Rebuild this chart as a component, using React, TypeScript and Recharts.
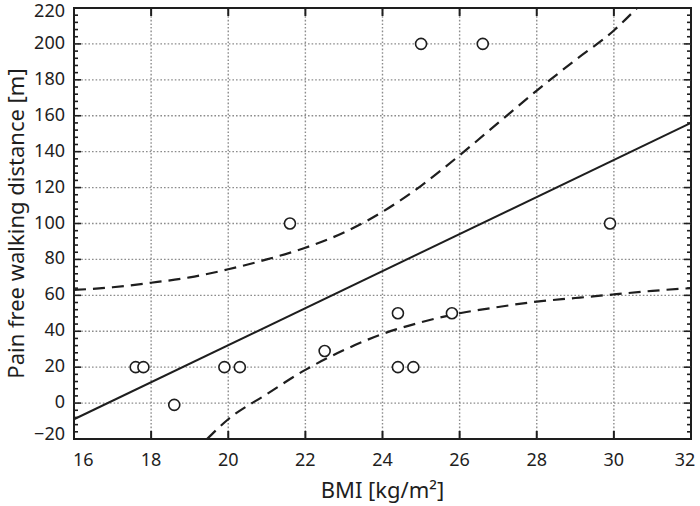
import { ComposedChart, Line, Scatter, XAxis, YAxis, ReferenceLine, ReferenceArea } from 'recharts';

// observed points
const bmi = [17.6, 17.8, 18.6, 19.9, 20.3, 21.6, 22.5, 24.4, 24.4, 24.8, 25.8, 25.0, 26.6, 29.9];
const walk = [20, 20, -1, 20, 20, 100, 29, 50, 20, 20, 50, 200, 200, 100];

// regression line
const fitX = [16, 32];
const fitY = [-9, 156];

// confidence band
const upperX = [16, 17, 18, 19, 20, 21, 22, 23, 24, 25, 26, 27, 28, 29, 30, 30.6];
const upperY = [63, 64.5, 67, 70, 74.5, 80, 86.5, 95, 106.5, 121, 138, 156, 174, 191, 207.5, 220];
const lowerX = [19.45, 20, 21, 22, 23, 24, 25, 26, 27, 28, 29, 30, 31, 32];
const lowerY = [-20, -9, 5, 18.5, 29.5, 38.5, 45, 50, 53.5, 56.5, 58.5, 60.5, 62.5, 64];

const xTicks = [16, 18, 20, 22, 24, 26, 28, 30, 32];
const yMajor = [-20, 0, 20, 40, 60, 80, 100, 120, 140, 160, 180, 200, 220];
const yTicks = yMajor.flatMap((v, i) => (i === 0 ? [v] : [v - 16, v - 12, v - 8, v - 4, v]));

const zip = (xs: number[], ys: number[]) => xs.map((x, i) => ({ x, y: ys[i] }));
const points = zip(bmi, walk);
const fit = zip(fitX, fitY);
const upper = zip(upperX, upperY);
const lower = zip(lowerX, lowerY);

const W = 700;
const H = 506;
const MARGIN = { top: 8, right: 9, bottom: 0, left: 0 };
const PLOT_TOP = MARGIN.top;
const PLOT_RIGHT = W - MARGIN.right;

const INK = '#1e1e1e';
const GRID = '#8c8c8c';
const FONT = '"Noto Sans", sans-serif';

const fmt = (v: number) => (v < 0 ? '\u2212' + Math.abs(v) : String(v));

// x ticks point inward on both bottom and top edges
const BottomTick = ({ x, y, payload }: any) => {
  const v = payload.value;
  const first = v === xTicks[0];
  const last = v === xTicks[xTicks.length - 1];
  return (
    <g>
      <line x1={x} y1={y} x2={x} y2={y - 8} stroke={INK} strokeWidth={2} />
      <line x1={x} y1={PLOT_TOP} x2={x} y2={PLOT_TOP + 8} stroke={INK} strokeWidth={2} />
      <text
        x={first ? x - 1 : last ? x - 6 : x}
        y={y + 27}
        textAnchor={first ? 'start' : 'middle'}
        fontSize={18}
        fontFamily={FONT}
        fill={INK}
      >
        {v}
      </text>
    </g>
  );
};

// y ticks point inward on both left and right edges
const LeftTick = ({ x, y, payload }: any) => {
  const v = payload.value;
  const major = v % 20 === 0;
  const len = major ? 7 : 4;
  const base = v === 220 ? 9 : v === -20 ? 1 : 5;
  return (
    <g>
      <line x1={x} y1={y} x2={x + len} y2={y} stroke={INK} strokeWidth={1.6} />
      <line x1={PLOT_RIGHT} y1={y} x2={PLOT_RIGHT - len} y2={y} stroke={INK} strokeWidth={1.6} />
      {major && (
        <text x={x - 9} y={y + base} textAnchor="end" fontSize={18} fontFamily={FONT} fill={INK}>
          {fmt(v)}
        </text>
      )}
    </g>
  );
};

const Dot = (props: any) => (
  <circle cx={props.cx} cy={props.cy} r={5.5} fill="#fff" stroke={INK} strokeWidth={1.6} />
);

export default function App() {
  return (
    <div style={{ position: 'absolute', left: 0, top: 0 }}>
      <ComposedChart width={W} height={H} margin={MARGIN}>
        <XAxis
          type="number"
          dataKey="x"
          domain={[16, 32]}
          ticks={xTicks}
          interval={0}
          height={67}
          tickSize={0}
          tickMargin={0}
          tick={<BottomTick />}
          axisLine={false}
          label={{ value: 'BMI [kg/m²]', position: 'insideBottom', offset: 8, fontSize: 22, fontFamily: FONT, fill: INK }}
        />
        <YAxis
          type="number"
          domain={[-20, 220]}
          ticks={yTicks}
          interval={0}
          width={74}
          tickSize={0}
          tickMargin={0}
          tick={<LeftTick />}
          axisLine={false}
          label={{
            value: 'Pain free walking distance [m]',
            angle: -90,
            position: 'insideLeft',
            offset: 16,
            fontSize: 22,
            fontFamily: FONT,
            fill: INK,
            style: { textAnchor: 'middle' },
          }}
        />
        {yMajor.slice(1, -1).map((v) => (
          <ReferenceLine key={'gy' + v} y={v} stroke={GRID} strokeWidth={1.4} strokeDasharray="1.6 2" />
        ))}
        {xTicks.slice(1, -1).map((v) => (
          <ReferenceLine key={'gx' + v} x={v} stroke={GRID} strokeWidth={1.4} strokeDasharray="1.6 2" />
        ))}
        <ReferenceArea x1={16} x2={32} y1={-20} y2={220} fill="none" stroke={INK} strokeWidth={2} />
        <Line data={upper} dataKey="y" type="monotone" stroke={INK} strokeWidth={2.2} strokeDasharray="12 7" dot={false} isAnimationActive={false} />
        <Line data={lower} dataKey="y" type="monotone" stroke={INK} strokeWidth={2.2} strokeDasharray="12 7" dot={false} isAnimationActive={false} />
        <Line data={fit} dataKey="y" type="linear" stroke={INK} strokeWidth={2} dot={false} isAnimationActive={false} />
        <Scatter data={points} dataKey="y" shape={<Dot />} isAnimationActive={false} />
      </ComposedChart>
    </div>
  );
}
